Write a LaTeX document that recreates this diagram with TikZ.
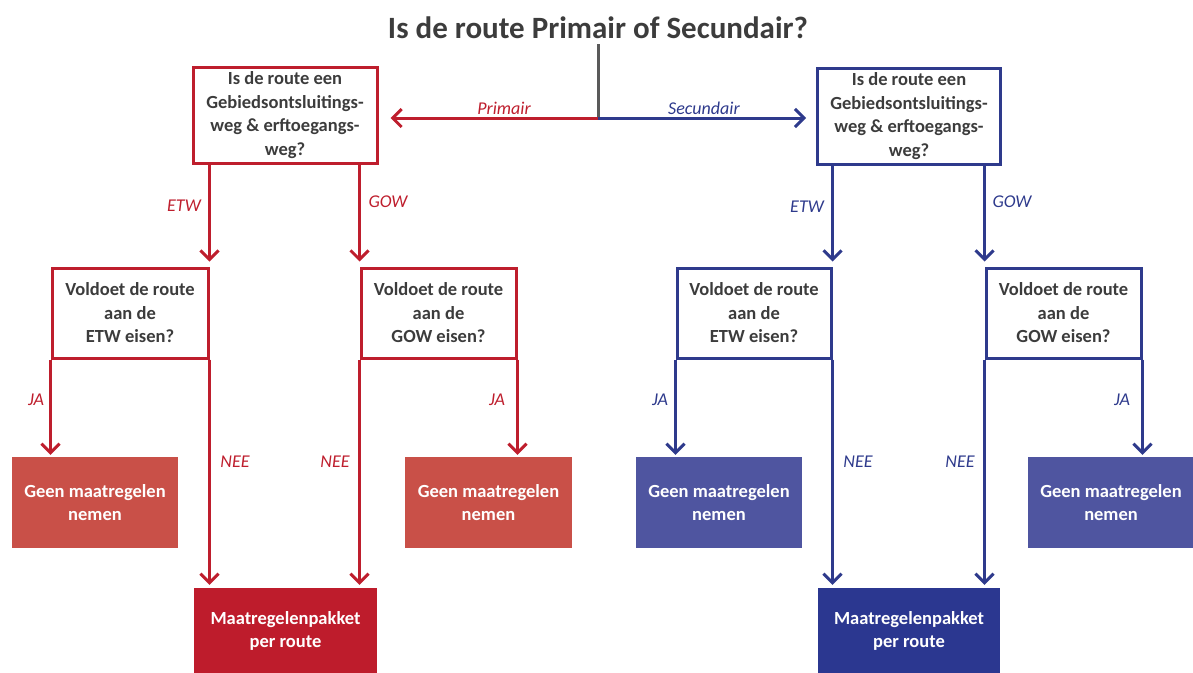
\documentclass[tikz,border=0pt]{standalone}
\usepackage{fontspec}
\setmainfont{Carlito}
\usetikzlibrary{arrows.meta}
\definecolor{redline}{RGB}{190,30,45}
\definecolor{redfill}{RGB}{201,80,72}
\definecolor{reddark}{RGB}{190,28,44}
\definecolor{blueline}{RGB}{46,58,140}
\definecolor{bluefill}{RGB}{79,85,160}
\definecolor{bluedark}{RGB}{43,55,144}
\definecolor{txt}{RGB}{60,60,60}
\definecolor{graylin}{RGB}{90,90,90}
\begin{document}
\begin{tikzpicture}[x=1pt,y=-1pt,
  boxtext/.style={inner sep=0pt, align=center, font=\fontsize{18.5}{23.5}\selectfont\bfseries},
  qbox/.style={boxtext, rectangle, line width=3pt, fill=white, text=txt},
  qred/.style={qbox, draw=redline},
  qblue/.style={qbox, draw=blueline},
  abox/.style={boxtext, rectangle, text=white},
  lab/.style={inner sep=0pt, font=\fontsize{18}{20}\selectfont\itshape},
  labred/.style={lab, text=redline},
  labblue/.style={lab, text=blueline},
  conn/.style={line width=3pt, -{Straight Barb[length=9pt,width=18pt]}},
  cred/.style={conn, draw=redline},
  cblue/.style={conn, draw=blueline},
]
\useasboundingbox (0,0) rectangle (1193,672);

% title
\node[inner sep=0pt, anchor=base, text=txt, font=\fontsize{31}{36}\selectfont\bfseries] (title) at (598,38) {Is de route Primair of Secundair?};
\coordinate (split) at (598,118);
\draw[graylin, line width=3pt] ([yshift=-6pt]title.south) -- (split);

% top boxes
\node[qred, minimum width=184pt, minimum height=96pt] (tl) at (285,115)
  {Is de route een\\Gebiedsontsluitings-\\weg \& erftoegangs-\\weg?};
\node[qblue, minimum width=183pt, minimum height=96pt] (tr) at (909,116)
  {Is de route een\\Gebiedsontsluitings-\\weg \& erftoegangs-\\weg?};

% second-level boxes
\node[qred, minimum width=156pt, minimum height=90pt] (ll) at (130,313)
  {Voldoet de route\\aan de\\ETW eisen?};
\node[qred, minimum width=155pt, minimum height=90pt] (lr) at (438.5,313)
  {Voldoet de route\\aan de\\GOW eisen?};
\node[qblue, minimum width=154pt, minimum height=90pt] (rl) at (754,313)
  {Voldoet de route\\aan de\\ETW eisen?};
\node[qblue, minimum width=155pt, minimum height=90pt] (rr) at (1063.5,313)
  {Voldoet de route\\aan de\\GOW eisen?};

% no-measure boxes
\node[abox, fill=redfill, minimum width=166pt, minimum height=91pt] (gll) at (95,502.5) {Geen maatregelen\\nemen};
\node[abox, fill=redfill, minimum width=167pt, minimum height=91pt] (glr) at (488.5,502.5) {Geen maatregelen\\nemen};
\node[abox, fill=bluefill, minimum width=166pt, minimum height=91pt] (grl) at (719,502.5) {Geen maatregelen\\nemen};
\node[abox, fill=bluefill, minimum width=166pt, minimum height=91pt] (grr) at (1111,502.5) {Geen maatregelen\\nemen};

% measure package boxes
\node[abox, fill=reddark, minimum width=183pt, minimum height=86pt] (ml) at (285.5,631) {Maatregelenpakket\\per route};
\node[abox, fill=bluedark, minimum width=182pt, minimum height=86pt] (mr) at (909,631) {Maatregelenpakket\\per route};

% primair / secundair
\draw[cred, shorten >=12pt] (split) -- (tl.east |- split);
\draw[cblue, shorten >=10pt] (split) -- (tr.west |- split);
\node[labred] (lprim) at (504,108) {Primair};
\node[labblue] (lsec) at (704,108) {Secundair};

% top box to second level
\draw[cred, shorten >=5pt] (ll.north east |- tl.south) -- (ll.north east);
\draw[cred, shorten >=5pt] (lr.north west |- tl.south) -- (lr.north west);
\draw[cblue, shorten >=5pt] (rl.north east |- tr.south) -- (rl.north east);
\draw[cblue, shorten >=5pt] (rr.north west |- tr.south) -- (rr.north west);
\node[labred] (letwl) at (184,206) {ETW};
\node[labred] (lgowl) at (388,202) {GOW};
\node[labblue] (letwr) at (807,207) {ETW};
\node[labblue] (lgowr) at (1012,202) {GOW};

% JA arrows
\draw[cred, shorten >=2pt] (ll.south west) -- (ll.south west |- gll.north);
\draw[cred, shorten >=2pt] (lr.south east) -- (lr.south east |- glr.north);
\draw[cblue, shorten >=2pt] (rl.south west) -- (rl.south west |- grl.north);
\draw[cblue, shorten >=2pt] (rr.south east) -- (rr.south east |- grr.north);
\node[labred] (ja1) at (36,400) {JA};
\node[labred] (ja2) at (497,400) {JA};
\node[labblue] (ja3) at (660,400) {JA};
\node[labblue] (ja4) at (1122,400) {JA};

% NEE arrows
\draw[cred, shorten >=3pt] (ll.south east) -- (ll.south east |- ml.north);
\draw[cred, shorten >=3pt] (lr.south west) -- (lr.south west |- ml.north);
\draw[cblue, shorten >=3pt] (rl.south east) -- (rl.south east |- mr.north);
\draw[cblue, shorten >=3pt] (rr.south west) -- (rr.south west |- mr.north);
\node[labred] (nee1) at (235,462) {NEE};
\node[labred] (nee2) at (335,462) {NEE};
\node[labblue] (nee3) at (858,462) {NEE};
\node[labblue] (nee4) at (960,462) {NEE};
\end{tikzpicture}
\end{document}
